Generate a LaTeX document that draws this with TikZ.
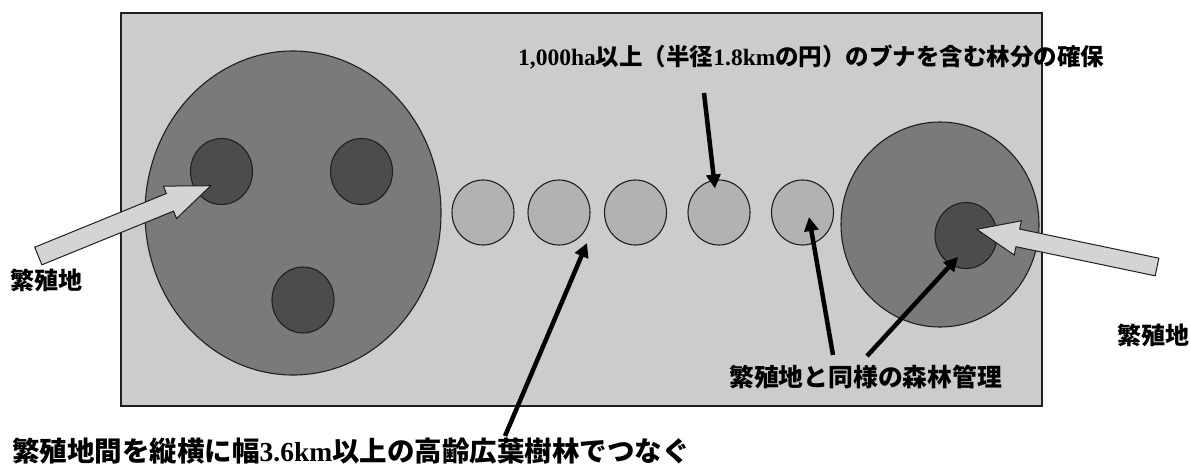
\documentclass[tikz,border=0pt]{standalone}
\usepackage{fontspec}
\newfontfamily\jp{Noto Sans CJK JP}
\newfontfamily\lat{Liberation Serif}
\usetikzlibrary{shapes.geometric,arrows.meta,calc}

\definecolor{bgfield}{gray}{0.80}
\definecolor{midfill}{gray}{0.48}
\definecolor{darkfill}{gray}{0.30}
\definecolor{palefill}{gray}{0.70}
\definecolor{arwfill}{gray}{0.83}
\definecolor{edge}{gray}{0.12}

\newcommand\fatarrow[4]{% tail, tip, half shaft width, head length
  \coordinate (hb) at ($(#2)!#4!(#1)$);
  \draw[fatarr] ($(#1)!#3!90:(#2)$) -- ($(hb)!#3!90:(#2)$) -- ($(hb)!17.5pt!90:(#2)$)
    -- (#2) -- ($(hb)!17.5pt!-90:(#2)$) -- ($(hb)!#3!-90:(#2)$) -- ($(#1)!#3!-90:(#2)$) -- cycle;
}

\begin{document}
\begin{tikzpicture}[x=1pt,y=-1pt,
  field/.style={draw=edge, fill=bgfield, line width=1.6pt, inner sep=0pt, minimum width=921pt, minimum height=393pt},
  region/.style={ellipse, draw=edge, line width=1.1pt, inner sep=0pt},
  bigregion/.style={region, fill=midfill},
  core/.style={region, fill=darkfill, minimum width=62pt, minimum height=66pt},
  link/.style={region, fill=palefill, minimum width=62pt, minimum height=65pt},
  lbl/.style={inner sep=0pt, anchor=west, text=black},
  ptr/.style={line width=4.5pt, draw=black, -{Triangle[length=14pt,width=14pt]}},
  fatarr/.style={fill=arwfill, draw=edge, line width=1pt, line join=miter},
]
\useasboundingbox (0,0) rectangle (1190,469);
\fill[white] (0,0) rectangle (1190,469);

\node[field] (F) at (581.5,209.5) {};

% left breeding area
\node[bigregion, minimum width=296pt, minimum height=324pt] (L) at (293,213) {};
\node[core] (L1) at (221.5,171.5) {};
\node[core] (L2) at (361.5,171.5) {};
\node[core] (L3) at (303,300) {};

% corridor patches
\node[link] (c1) at (483,212.5) {};
\node[link] (c2) at (559,212.5) {};
\node[link] (c3) at (635.5,212.5) {};
\node[link] (c4) at (719,212.5) {};
\node[link] (c5) at (802.5,212.5) {};

% right breeding area
\node[bigregion, minimum width=198pt, minimum height=205pt] (R) at (940,224.5) {};
\node[core] (R1) at (966,235.5) {};

% labels
\node[lbl, font=\jp\bfseries\fontsize{23.5}{28}\selectfont] (t1) at (518,57.5)
  {{\lat 1,000ha}以上（半径{\lat 1.8km}の円）のブナを含む林分の確保};
\node[lbl, font=\jp\bfseries\fontsize{27.5}{32}\selectfont] (t2) at (12,451)
  {繁殖地間を縦横に幅{\lat 3.6km}以上の高齢広葉樹林でつなぐ};
\node[lbl, font=\jp\bfseries\fontsize{24.8}{30}\selectfont] (t3) at (729,377)
  {繁殖地と同様の森林管理};
\node[lbl, font=\jp\bfseries\fontsize{24}{29}\selectfont] (t4) at (10,280) {繁殖地};
\node[lbl, font=\jp\bfseries\fontsize{24}{29}\selectfont] (t5) at (1117,335) {繁殖地};

% big pale arrows to breeding areas
\coordinate (la0) at (38.3,256);
\coordinate (la1) at ($(L1)+(-10.8,14.2)$);
\fatarrow{la0}{la1}{9.5pt}{44pt}
\coordinate (ra0) at (1157,267);
\coordinate (ra1) at ($(R1)+(10.7,-6.2)$);
\fatarrow{ra0}{ra1}{9pt}{42pt}

% black pointers
\coordinate (p1) at (704,93);
\draw[ptr] (p1) -- ($(c4)+(-4,-24)$);
\coordinate (p2) at (505,436);
\draw[ptr] (p2) -- ($(c2)+(28,30.5)$);
\coordinate (p3) at (833,355);
\draw[ptr] (p3) -- ($(c5)+(6.5,4.5)$);
\coordinate (p4) at (867,356);
\draw[ptr] (p4) -- ($(R1)+(-8,21.5)$);
\end{tikzpicture}
\end{document}
